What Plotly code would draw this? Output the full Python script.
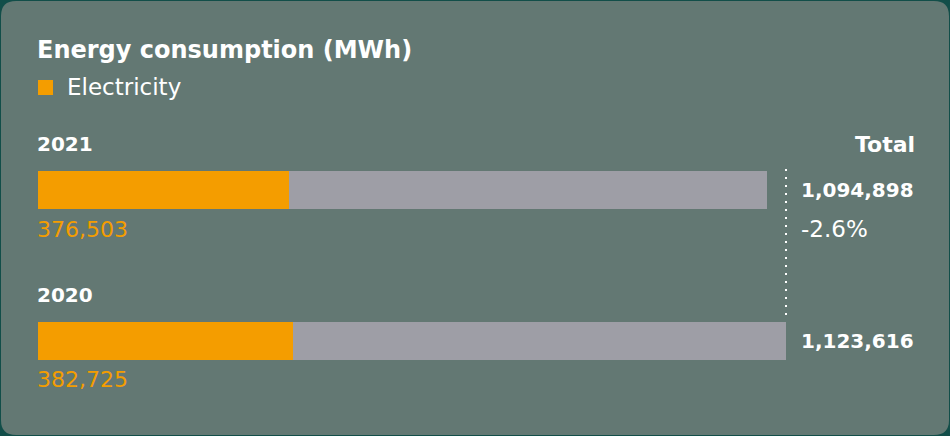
import plotly.graph_objects as go

# ---- data ----
years = ["2021", "2020"]
electricity = [376503, 382725]
total = [1094898, 1123616]
change_label = "-2.6%"
title = "Energy consumption (MWh)"
legend_label = "Electricity"

# ---- layout helpers (pixel geometry) ----
W, H = 950, 436
LEFT, RIGHT20 = 38, 786
scale = (RIGHT20 - LEFT) / max(total)          # px per MWh
x_range = [-LEFT / scale, (W - LEFT) / scale]
pitch, c0 = 150.5, 190.0                       # bar spacing and first bar centre (px)
y_range = [(H - c0) / pitch, -c0 / pitch]      # reversed category axis
bar_w = 38 / pitch

ORANGE = "#f49d00"
GREY = "#9e9ea6"
CARD = "#637873"
FONT = "DejaVu Sans"


def px(x):
    return x / W


def py(y):
    return 1 - y / H


def rounded_rect(x0, y0, x1, y1, r):
    rx, ry = r / W, r / H
    X0, X1 = px(x0), px(x1)
    Y0, Y1 = py(y0), py(y1)  # Y0 top (larger), Y1 bottom
    return (f"M {X0+rx},{Y0} L {X1-rx},{Y0} Q {X1},{Y0} {X1},{Y0-ry} "
            f"L {X1},{Y1+ry} Q {X1},{Y1} {X1-rx},{Y1} "
            f"L {X0+rx},{Y1} Q {X0},{Y1} {X0},{Y1+ry} "
            f"L {X0},{Y0-ry} Q {X0},{Y0} {X0+rx},{Y0} Z")


fig = go.Figure()
fig.add_bar(y=years, x=total, orientation="h", marker=dict(color=GREY, line_width=0),
            width=bar_w, showlegend=False, hoverinfo="skip")
fig.add_bar(y=years, x=electricity, orientation="h", marker=dict(color=ORANGE, line_width=0),
            width=bar_w, name=legend_label, showlegend=False, hoverinfo="skip")

ann = []
def text(x, y, s, size=20, color="white", bold=False, anchor="left"):
    ann.append(dict(x=x, y=y, xref="paper", yref="paper", text=f"<b>{s}</b>" if bold else s,
                    showarrow=False, xanchor=anchor, yanchor="middle",
                    font=dict(family=FONT, size=size, color=color), borderpad=0))

text(px(LEFT - 2), py(50), title, size=24, bold=True)
text(px(66), py(87), legend_label, size=23)
text(px(914 + 2), py(144), "Total", size=22, bold=True, anchor="right")
for i, yr in enumerate(years):
    cy = c0 + i * pitch
    text(px(LEFT - 2), py(cy - 46), yr, size=20, bold=True)
    text(px(LEFT - 2), py(cy + 39), f"{electricity[i]:,}", size=22, color=ORANGE)
    text(px(800), py(cy), f"{total[i]:,}", size=20, bold=True)
text(px(800), py(c0 + 39), change_label, size=23)

shapes = [
    dict(type="path", xref="paper", yref="paper", path=rounded_rect(1, 1, 949, 435, 15),
         fillcolor=CARD, line_width=0, layer="below"),
    dict(type="rect", xref="paper", yref="paper", x0=px(38), x1=px(53), y0=py(80), y1=py(95),
         fillcolor=ORANGE, line_width=0),
    dict(type="line", xref="paper", yref="paper", x0=px(786), x1=px(786), y0=py(169), y1=py(317),
         line=dict(color="white", width=2, dash="2px,6px")),
]

fig.update_layout(
    width=W, height=H, margin=dict(l=0, r=0, t=0, b=0),
    paper_bgcolor="#124e49", plot_bgcolor="rgba(0,0,0,0)",
    barmode="overlay", bargap=0,
    xaxis=dict(range=x_range, visible=False, fixedrange=True),
    yaxis=dict(range=y_range, visible=False, fixedrange=True, type="category",
               categoryorder="array", categoryarray=years),
    annotations=ann, shapes=shapes, showlegend=False,
)

fig.write_html("out.html")
